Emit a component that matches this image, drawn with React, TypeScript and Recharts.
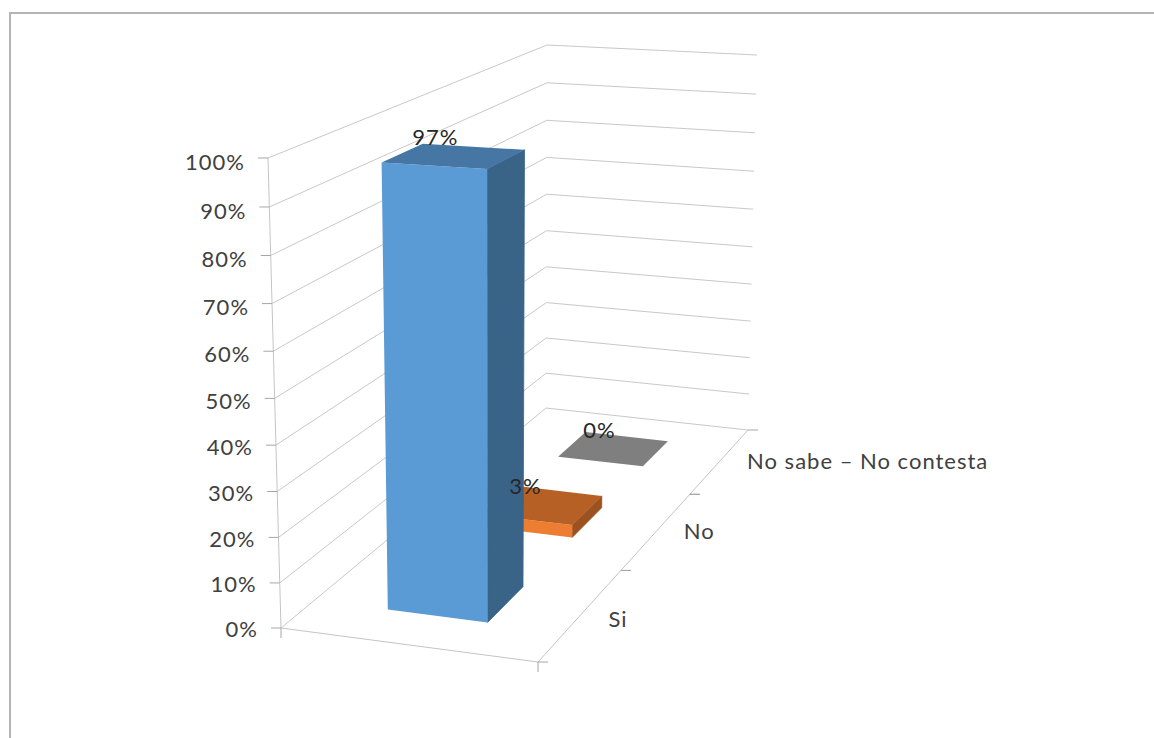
import { BarChart, Bar, Cell, CartesianGrid, LabelList, XAxis, YAxis } from 'recharts'

const categories = ['Si', 'No', 'No sabe – No contesta']
const shares = [97, 3, 0]
const percentTicks = [0, 10, 20, 30, 40, 50, 60, 70, 80, 90, 100]

// front, top and side faces of each column
const frontColors = ['#5B9BD5', '#ED7D31', '#A5A5A5']
const topColors = ['#4677A4', '#B66025', '#7F7F7F']
const sideColors = ['#3A6388', '#9C5220', '#6A6A6A']

const WIDTH = 1154
const HEIGHT = 738
const TEXT = '#404040'
const GRID = '#c8c8c8'
const FONT = 'Lato, sans-serif'

// plot box the Recharts scales work in; everything is then projected onto the 3D room
const PLOT = { left: 281, right: 538, top: 158, bottom: 628 }
const PLOT_W = PLOT.right - PLOT.left
const PLOT_H = PLOT.bottom - PLOT.top

type Pt = [number, number]

// corners in order: front-left, front-right, back-right, back-left
const FLOOR: Pt[] = [[281, 628], [538, 662], [748, 430], [546, 408]]
const CEILING: Pt[] = [[268, 158], [541, 175], [757, 55], [547, 45]]

// column footprint across the room, 0 = left wall side, 1 = right edge
const COL_LEFT = 0.297
const COL_RIGHT = 0.696

function quadMap([p0, p1, p2, p3]: Pt[]) {
  const dx1 = p1[0] - p2[0]
  const dx2 = p3[0] - p2[0]
  const sx = p0[0] - p1[0] + p2[0] - p3[0]
  const dy1 = p1[1] - p2[1]
  const dy2 = p3[1] - p2[1]
  const sy = p0[1] - p1[1] + p2[1] - p3[1]
  const den = dx1 * dy2 - dx2 * dy1
  const g = (sx * dy2 - dx2 * sy) / den
  const h = (dx1 * sy - sx * dy1) / den
  return (w: number, d: number): Pt => {
    const q = g * w + h * d + 1
    return [
      ((p1[0] - p0[0] + g * p1[0]) * w + (p3[0] - p0[0] + h * p3[0]) * d + p0[0]) / q,
      ((p1[1] - p0[1] + g * p1[1]) * w + (p3[1] - p0[1] + h * p3[1]) * d + p0[1]) / q,
    ]
  }
}

const floorAt = quadMap(FLOOR)
const ceilingAt = quadMap(CEILING)

// w across, d into the room, v height as 0..1
function project(w: number, d: number, v: number): Pt {
  const f = floorAt(w, d)
  const c = ceilingAt(w, d)
  const t = (0.955 * v) / (1 - 0.045 * v)
  return [f[0] + (c[0] - f[0]) * t, f[1] + (c[1] - f[1]) * t]
}

const poly = (pts: Pt[]) => pts.map(p => `${p[0].toFixed(1)},${p[1].toFixed(1)}`).join(' ')
const line = (a: Pt, b: Pt) => ({ x1: a[0], y1: a[1], x2: b[0], y2: b[1] })

// rows run back to front so nearer columns paint over the ones behind
const rows = categories.map((name, i) => ({ name, value: shares[i] })).reverse()
const rowFaces = (index: number) => categories.length - 1 - index

function depthOf(x: number) {
  return (PLOT.right - x) / PLOT_W
}

function Column(props: any) {
  const { x, width, height, index } = props
  const near = depthOf(x + width)
  const far = depthOf(x)
  const v = height / PLOT_H
  const c = rowFaces(index)
  const base = (w: number, d: number) => project(w, d, 0)
  const top = (w: number, d: number) => project(w, d, v)
  return (
    <g>
      {v > 0 && (
        <>
          {/* side goes first with a hairline stroke so no seam opens against the front */}
          <polygon
            points={poly([base(COL_RIGHT, near), base(COL_RIGHT, far), top(COL_RIGHT, far), top(COL_RIGHT, near)])}
            fill={sideColors[c]}
            stroke={sideColors[c]}
            strokeWidth={0.8}
          />
          <polygon
            points={poly([base(COL_LEFT, near), base(COL_RIGHT, near), top(COL_RIGHT, near), top(COL_LEFT, near)])}
            fill={frontColors[c]}
          />
        </>
      )}
      <polygon
        points={poly([top(COL_LEFT, near), top(COL_RIGHT, near), top(COL_RIGHT, far), top(COL_LEFT, far)])}
        fill={topColors[c]}
      />
    </g>
  )
}

function ValueLabel(props: any) {
  const { x, width, height, value } = props
  const d = depthOf(x + width / 2)
  const [px, py] = project((COL_LEFT + COL_RIGHT) / 2, d, Math.abs(height) / PLOT_H)
  return (
    <text x={px - 20 + 7 * d} y={py - 11} textAnchor="middle" fontSize={22} letterSpacing={1} fontFamily={FONT} fill="#262626">
      {value}%
    </text>
  )
}

// each horizontal grid line runs along the left wall and then the back wall
function WallLine(props: any) {
  const v = (PLOT.bottom - props.y1) / PLOT_H
  const front = project(0, 0, v)
  const corner = project(0, 1, v)
  const end = project(1, 1, v)
  return (
    <g key={props.key} stroke={GRID} fill="none">
      <polyline points={poly([front, corner, end])} />
      {v === 0 && (
        <>
          <line {...line(project(0, 0, 0), project(0, 0, 1))} stroke="#c4c4c4" />
          <polyline points={poly([front, project(1, 0, 0), end])} stroke="#c4c4c4" />
          <line {...line(front, [front[0], front[1] + 10])} stroke="#a6a6a6" />
          <line {...line(project(1, 0, 0), [project(1, 0, 0)[0], project(1, 0, 0)[1] + 10])} stroke="#a6a6a6" />
        </>
      )}
    </g>
  )
}

function PercentTick(props: any) {
  const { y, payload } = props
  const v = (PLOT.bottom - y) / PLOT_H
  const [px, py] = project(0, 0, v)
  return (
    <g>
      <line x1={px - 10} y1={py} x2={px} y2={py} stroke="#a6a6a6" />
      <text x={px - 23} y={py + 9 + 3 * v} textAnchor="end" fontSize={22} letterSpacing={1} fontFamily={FONT} fill={TEXT}>
        {payload.value}%
      </text>
    </g>
  )
}

function CategoryTick(props: any) {
  const { x, payload } = props
  const d = depthOf(x)
  const half = 0.5 / categories.length
  const [px, py] = project(1, d, 0)
  const back = project(1, d + half, 0)
  const front = project(1, d - half, 0)
  const nudge = d < 0.3 ? 5 : 0
  return (
    <g>
      <line x1={back[0]} y1={back[1]} x2={back[0] + 10} y2={back[1]} stroke="#a6a6a6" />
      <line x1={front[0]} y1={front[1]} x2={front[0] + 10} y2={front[1]} stroke="#a6a6a6" />
      <text x={px + 27} y={py + 8 + nudge} textAnchor="start" fontSize={22} letterSpacing={1} fontFamily={FONT} fill={TEXT}>
        {payload.value}
      </text>
    </g>
  )
}

export default function App() {
  return (
    <div style={{ position: 'absolute', left: 0, top: 0, width: WIDTH, height: HEIGHT, background: '#fff', overflow: 'hidden' }}>
      {/* chart-area border, only top and left show */}
      <div
        style={{
          position: 'absolute',
          left: 9,
          top: 12,
          width: WIDTH,
          height: HEIGHT,
          borderTop: '2px solid #b4b4b4',
          borderLeft: '2px solid #b4b4b4',
        }}
      />
      <BarChart
        width={WIDTH}
        height={HEIGHT}
        data={rows}
        barCategoryGap="30%"
        margin={{ top: PLOT.top, bottom: HEIGHT - PLOT.bottom - 1, left: PLOT.left - 1, right: WIDTH - PLOT.right }}
      >
        <CartesianGrid vertical={false} horizontal={WallLine} syncWithTicks />
        <XAxis dataKey="name" height={1} interval={0} axisLine={false} tickLine={false} tick={CategoryTick} />
        <YAxis
          type="number"
          domain={[0, 100]}
          ticks={percentTicks}
          width={1}
          interval={0}
          axisLine={false}
          tickLine={false}
          tick={PercentTick}
        />
        <Bar dataKey="value" shape={Column} isAnimationActive={false}>
          {rows.map(r => (
            <Cell key={r.name} />
          ))}
          <LabelList dataKey="value" content={ValueLabel} />
        </Bar>
      </BarChart>
    </div>
  )
}
